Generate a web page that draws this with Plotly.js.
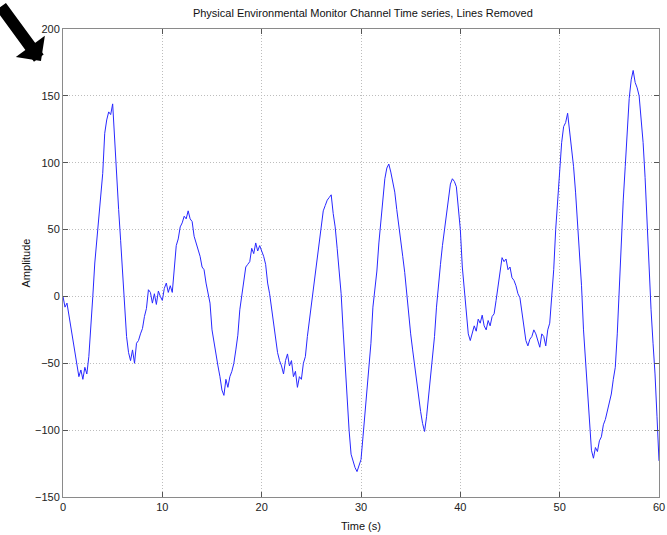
<!DOCTYPE html>
<html>
<head>
<meta charset="utf-8">
<script src="https://cdn.plot.ly/plotly-3.0.1.min.js"></script>
<style>html,body{margin:0;padding:0;background:#fff;}#chart{width:667px;height:535px;}</style>
</head>
<body>
<div id="chart"></div>
<script>
const timeS = [
0,0.2,0.4,0.6,0.8,1,1.2,1.4,1.6,1.8,2,2.2,2.4,2.6,2.8,3,3.2,3.4,3.6,3.8,
4,4.2,4.4,4.6,4.8,5,5.2,5.4,5.6,5.8,6,6.2,6.4,6.6,6.8,7,7.2,7.4,7.6,7.8,
8,8.2,8.4,8.6,8.8,9,9.2,9.4,9.6,9.8,10,10.2,10.4,10.6,10.8,11,11.2,11.4,11.6,11.8,
12,12.2,12.4,12.6,12.8,13,13.2,13.4,13.6,13.8,14,14.2,14.4,14.6,14.8,15,15.2,15.4,15.6,15.8,
16,16.2,16.4,16.6,16.8,17,17.2,17.4,17.6,17.8,18,18.2,18.4,18.6,18.8,19,19.2,19.4,19.6,19.8,
20,20.2,20.4,20.6,20.8,21,21.2,21.4,21.6,21.8,22,22.2,22.4,22.6,22.8,23,23.2,23.4,23.6,23.8,
24,24.2,24.4,24.6,24.8,25,25.2,25.4,25.6,25.8,26,26.2,26.4,26.6,26.8,27,27.2,27.4,27.6,27.8,
28,28.2,28.4,28.6,28.8,29,29.2,29.4,29.6,29.8,30,30.2,30.4,30.6,30.8,31,31.2,31.4,31.6,31.8,
32,32.2,32.4,32.6,32.8,33,33.2,33.4,33.6,33.8,34,34.2,34.4,34.6,34.8,35,35.2,35.4,35.6,35.8,
36,36.2,36.4,36.6,36.8,37,37.2,37.4,37.6,37.8,38,38.2,38.4,38.6,38.8,39,39.2,39.4,39.6,39.8,
40,40.2,40.4,40.6,40.8,41,41.2,41.4,41.6,41.8,42,42.2,42.4,42.6,42.8,43,43.2,43.4,43.6,43.8,
44,44.2,44.4,44.6,44.8,45,45.2,45.4,45.6,45.8,46,46.2,46.4,46.6,46.8,47,47.2,47.4,47.6,47.8,
48,48.2,48.4,48.6,48.8,49,49.2,49.4,49.6,49.8,50,50.2,50.4,50.6,50.8,51,51.2,51.4,51.6,51.8,
52,52.2,52.4,52.6,52.8,53,53.2,53.4,53.6,53.8,54,54.2,54.4,54.6,54.8,55,55.2,55.4,55.6,55.8,
56,56.2,56.4,56.6,56.8,57,57.2,57.4,57.6,57.8,58,58.2,58.4,58.6,58.8,59,59.2,59.4,59.6,59.8,
60
];
const amplitude = [
0,-8,-5,-14,-22,-30,-42,-50,-60,-55,-62,-53,-58,-45,-25,0,25,42,55,72,
92,122,132,138,136,144,115,95,65,42,15,-12,-30,-42,-48,-40,-50,-35,-33,-28,
-24,-15,-9,5,3,-5,2,-6,4,0,-3,6,10,3,8,3,20,38,43,52,
55,60,58,64,58,56,45,40,36,30,22,20,10,3,-5,-25,-35,-45,-52,-60,
-70,-74,-62,-68,-60,-56,-50,-40,-29,-10,1,15,22,24,26,36,32,40,34,38,
34,30,24,10,2,-10,-22,-32,-42,-48,-52,-58,-48,-43,-52,-48,-60,-56,-68,-60,
-62,-50,-45,-30,-18,-5,4,20,30,40,52,64,68,72,74,76,62,52,36,20,
2,-25,-50,-82,-100,-118,-124,-128,-131,-127,-122,-105,-88,-73,-52,-35,-8,5,19,40,
55,72,88,96,99,93,86,78,65,52,40,30,18,2,-15,-28,-40,-52,-62,-72,
-86,-95,-101,-90,-75,-62,-50,-30,-8,10,24,38,50,62,72,84,88,86,82,68,
50,22,5,-15,-28,-33,-28,-22,-26,-17,-20,-14,-22,-25,-18,-22,-15,-13,-3,7,
18,29,26,28,20,22,14,12,8,2,-1,-12,-25,-33,-37,-32,-30,-25,-28,-34,
-38,-28,-30,-37,-25,-20,-3,20,50,70,95,115,127,130,137,124,112,97,78,55,
32,8,-25,-48,-73,-100,-115,-121,-113,-116,-108,-105,-96,-92,-85,-80,-73,-62,-53,-28,
7,40,72,97,125,148,162,169,160,156,150,135,115,89,52,15,-10,-35,-58,-90,
-123
];
const xTicks = [0,10,20,30,40,50,60];
const yTicks = [-150,-100,-50,0,50,100,150,200];

const font = 'Liberation Sans, Arial, Helvetica, sans-serif';
const trace = {
  x: timeS, y: amplitude, type: 'scatter', mode: 'lines',
  line: {color: 'rgb(40,40,255)', width: 1}, hoverinfo: 'skip'
};
const axisCommon = {
  showline: true, linecolor: '#8a8a8a', linewidth: 1, mirror: 'ticks',
  ticks: 'inside', ticklen: 5, tickcolor: '#555', tickwidth: 1,
  showgrid: true, gridcolor: '#bdbdbd', griddash: '1px,2px', gridwidth: 1,
  zeroline: false, tickfont: {family: font, size: 11, color: '#222'}
};
const layout = {
  width: 667, height: 535,
  margin: {l: 63, r: 8, t: 29, b: 38},
  paper_bgcolor: '#fff', plot_bgcolor: '#fff',
  showlegend: false,
  title: {text: 'Physical Environmental Monitor Channel Time series, Lines Removed',
          font: {family: font, size: 11, color: '#111'}, x: 0.544, xanchor: 'center', y: 0.976, yanchor: 'middle'},
  xaxis: Object.assign({}, axisCommon, {range: [0, 60], tickvals: xTicks,
          title: {text: 'Time (s)', font: {family: font, size: 11, color: '#111'}, standoff: 10}}),
  yaxis: Object.assign({}, axisCommon, {range: [-150, 200], tickvals: yTicks,
          title: {text: 'Amplitude', font: {family: font, size: 11, color: '#111'}, standoff: 2}}),
  annotations: [{
    xref: 'paper', yref: 'paper', x: -0.037, y: 0.9316, text: '',
    showarrow: true, ax: -44, ay: -56, arrowcolor: '#000', arrowwidth: 12,
    arrowhead: 1, arrowsize: 0.5
  }]
};
Plotly.newPlot('chart', [trace], layout, {displayModeBar: false, staticPlot: true});
</script>
</body>
</html>
